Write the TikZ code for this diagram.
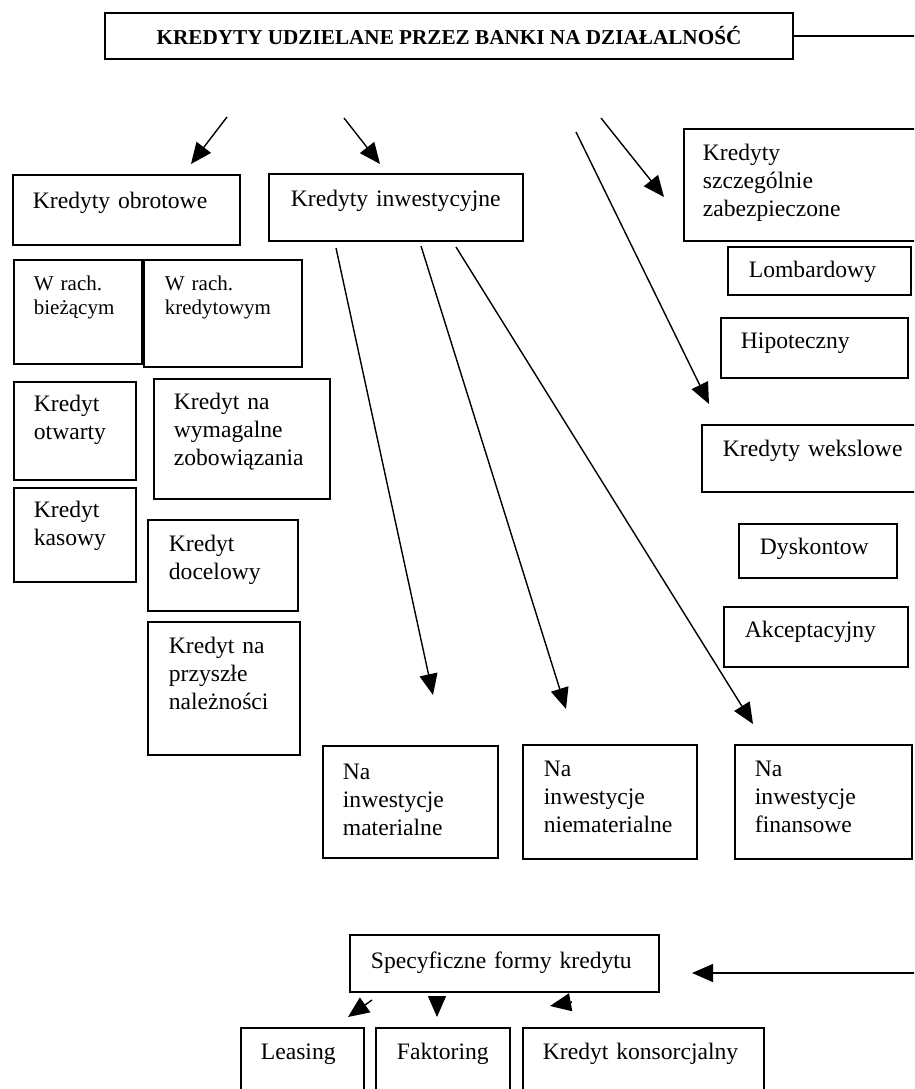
\documentclass[tikz,border=0pt]{standalone}
\usepackage{fontspec}
\setmainfont{Liberation Serif}
\usetikzlibrary{arrows.meta}
\hyphenpenalty=10000
\tikzset{
  kbox/.style={draw, line width=1.8pt, anchor=north west, align=left, inner ysep=0pt, font=\fontsize{23.6}{27.6}\selectfont},
  mbox/.style={kbox, font=\fontsize{21}{24}\selectfont},
  strz/.style={line width=1.4pt, -{Triangle[length=21pt, width=18pt]}}
}
\begin{document}
\begin{tikzpicture}[x=1pt, y=-1pt]
  \useasboundingbox (0,0) rectangle (914,1089);
  \clip (0,0) rectangle (914,1089);

  % Tytul
  \node[draw, line width=1.8pt, minimum width=688, minimum height=46, inner sep=0pt, font=\fontsize{21.2}{25}\selectfont\bfseries] (tytul) at (449,36) {KREDYTY UDZIELANE PRZEZ BANKI NA DZIAŁALNOŚĆ};

  % Kredyty obrotowe i inwestycyjne
  \node[kbox, inner xsep=20pt, text width=187pt, text height=34pt, text depth=36pt] (obrot) at (12,174) {Kredyty obrotowe};
  \node[kbox, inner xsep=22pt, text width=210pt, text height=33pt, text depth=34pt] (inwest) at (268,173) {Kredyty inwestycyjne};

  % Kredyty szczegolnie zabezpieczone
  \node[kbox, inner xsep=19pt, text width=210pt, text height=32pt, text depth=80pt] (zabezp) at (683,128) {Kredyty\\ szczególnie\\ zabezpieczone};
  \node[kbox, inner xsep=21pt, text width=141pt, text height=31pt, text depth=17pt] (lomb) at (727,246) {Lombardowy};
  \node[kbox, inner xsep=20pt, text width=147pt, text height=31pt, text depth=29pt] (hipo) at (720,317) {Hipoteczny};

  % Kredyty wekslowe
  \node[kbox, inner xsep=21pt, text width=187pt, text height=32pt, text depth=35pt] (weksl) at (701,424) {Kredyty wekslowe};
  \node[kbox, inner xsep=21pt, text width=116pt, text height=31pt, text depth=23pt] (dysk) at (738,523) {Dyskontow};
  \node[kbox, inner xsep=21pt, text width=142pt, text height=31pt, text depth=29pt] (akcept) at (723,606) {Akceptacyjny};

  % Rodzaje kredytow obrotowych
  \node[mbox, inner xsep=20pt, text width=88pt, text height=31pt, text depth=73pt] (rbiez) at (13,259) {W rach.\\ bieżącym};
  \node[mbox, inner xsep=21pt, text width=116pt, text height=31pt, text depth=76pt] (rkred) at (143,259) {W rach.\\ kredytowym};
  \node[kbox, inner xsep=20pt, text width=82pt, text height=30pt, text depth=68pt] (otw) at (13,381) {Kredyt\\ otwarty};
  \node[kbox, inner xsep=20pt, text width=136pt, text height=31pt, text depth=89pt] (wymag) at (153,378) {Kredyt na\\ wymagalne\\ zobowiązania};
  \node[kbox, inner xsep=20pt, text width=82pt, text height=30pt, text depth=64pt] (kas) at (13,487) {Kredyt\\ kasowy};
  \node[kbox, inner xsep=21pt, text width=108pt, text height=32pt, text depth=59pt] (docel) at (147,519) {Kredyt\\ docelowy};
  \node[kbox, inner xsep=21pt, text width=110pt, text height=32pt, text depth=101pt] (przysz) at (147,621) {Kredyt na\\ przyszłe\\ należności};

  % Rodzaje kredytow inwestycyjnych
  \node[kbox, inner xsep=20pt, text width=135pt, text height=34pt, text depth=78pt] (mater) at (322,745) {Na\\ inwestycje\\ materialne};
  \node[kbox, inner xsep=21pt, text width=132pt, text height=32pt, text depth=82pt] (niemat) at (522,744) {Na\\ inwestycje\\ niematerialne};
  \node[kbox, inner xsep=20pt, text width=137pt, text height=32pt, text depth=82pt] (finans) at (734,744) {Na\\ inwestycje\\ finansowe};

  % Specyficzne formy kredytu
  \node[kbox, inner xsep=21pt, text width=267pt, text height=34pt, text depth=23pt] (spec) at (349,934) {Specyficzne formy kredytu};
  \node[kbox, inner xsep=20pt, text width=83pt, text height=32pt, text depth=41pt] (leas) at (240,1027) {Leasing};
  \node[kbox, inner xsep=21pt, text width=92pt, text height=32pt, text depth=41pt] (fakt) at (375,1027) {Faktoring};
  \node[kbox, inner xsep=20pt, text width=201pt, text height=32pt, text depth=41pt] (konsor) at (522,1027) {Kredyt konsorcjalny};

  % Konce strzalek
  \coordinate (p1) at (916,36);
  \coordinate (p2) at (916,973);
  \coordinate (s1) at (227,117); \coordinate (k1) at (191,164);
  \coordinate (s2) at (344,118); \coordinate (k2) at (380,164);
  \coordinate (s3) at (601,118); \coordinate (k3) at (664,197);
  \coordinate (s4) at (576,132); \coordinate (k4) at (709,404);
  \coordinate (s5) at (336,248); \coordinate (k5) at (433,695);
  \coordinate (s6) at (421,246); \coordinate (k6) at (566,709);
  \coordinate (s7) at (456,247); \coordinate (k7) at (753,724);
  \coordinate (k8) at (692,973);
  \coordinate (s9) at (372,1000); \coordinate (k9) at (348,1017);
  \coordinate (s10) at (437,997); \coordinate (k10) at (437,1017);
  \coordinate (s11) at (572,1002); \coordinate (k11) at (550,1006);

  % Strzalki
  \draw[line width=1.4pt] (tytul.east) -- (p1);
  \draw[strz] (s1) -- (k1);
  \draw[strz] (s2) -- (k2);
  \draw[strz] (s3) -- (k3);
  \draw[strz] (s4) -- (k4);
  \draw[strz] (s5) -- (k5);
  \draw[strz] (s6) -- (k6);
  \draw[strz] (s7) -- (k7);
  \draw[strz] (p2) -- (k8);
  \draw[strz] (s9) -- (k9);
  \draw[strz] (s10) -- (k10);
  \draw[strz] (s11) -- (k11);
\end{tikzpicture}
\end{document}
